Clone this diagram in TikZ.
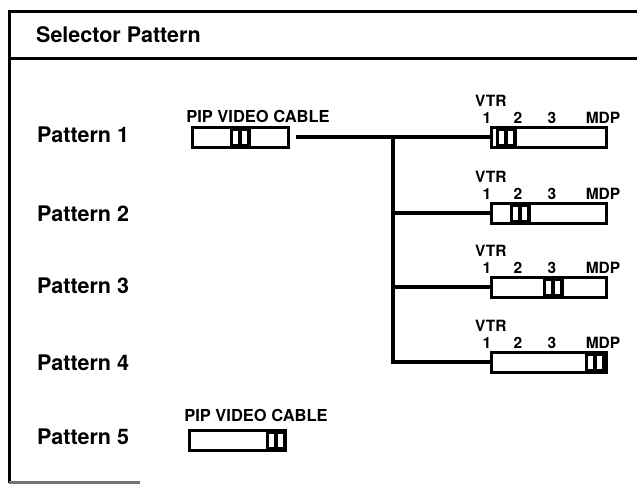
\documentclass[tikz,border=0pt]{standalone}
\usepackage{fontspec}
\setmainfont{TeX Gyre Heros}
\usetikzlibrary{positioning}
\tikzset{
  plabel/.style={anchor=west,inner sep=0pt,font=\fontsize{21.5}{21.5}\selectfont\bfseries},
  tag/.style={inner sep=0pt,font=\fontsize{15.5}{15.5}\selectfont\bfseries},
  piptag/.style={tag,font=\fontsize{16.5}{16.5}\selectfont\bfseries},
  switchbox/.style={draw,rectangle,line width=3pt,minimum width=96pt,minimum height=20pt,inner sep=0pt},
  vtrbox/.style={switchbox,minimum width=115pt},
  knob/.style={fill=black,rectangle,minimum width=21pt,minimum height=21pt,inner sep=0pt,
    path picture={
      \fill[white] ([xshift=-7pt,yshift=-6.5pt]path picture bounding box.center) rectangle ([xshift=-1.6pt,yshift=6.5pt]path picture bounding box.center);
      \fill[white] ([xshift=1.6pt,yshift=-6.5pt]path picture bounding box.center) rectangle ([xshift=7pt,yshift=6.5pt]path picture bounding box.center);}},
  wire/.style={line width=3.4pt}
}
\begin{document}
\begin{tikzpicture}[x=1pt,y=-1pt]
  \useasboundingbox (0,0) rectangle (637,485);

  % frame and header
  \draw[line width=3pt] (637,11) -- (9,11) -- (9,483);
  \draw[line width=3pt] (9,58) -- (637,58);
  \draw[line width=2.4pt,black!55] (9,482.5) -- (140,482.5);
  \node[plabel] (title) at (36,35) {Selector Pattern};

  % pattern names
  \node[plabel] (p1) at (37,135) {Pattern 1};
  \node[plabel] (p2) at (37,214) {Pattern 2};
  \node[plabel] (p3) at (37,286) {Pattern 3};
  \node[plabel] (p4) at (37,363) {Pattern 4};
  \node[plabel] (p5) at (37,437) {Pattern 5};

  % PIP switches
  \node[switchbox] (pip1) at (240,137) {};
  \node[piptag] (pipl1) at (258,116) {PIP VIDEO CABLE};
  \node[knob] (k1) at (240,137) {};
  \node[switchbox] (pip5) at (237,440) {};
  \node[piptag] (pipl5) at (256,415) {PIP VIDEO CABLE};
  \node[knob] (k5) at (276,440) {};

  % VTR/MDP switches
  \node[vtrbox] (v1) at (548.5,137) {};
  \node[vtrbox] (v2) at (548.5,213) {};
  \node[vtrbox] (v3) at (548.5,287) {};
  \node[vtrbox] (v4) at (548.5,362) {};

  \node[tag,anchor=west] (vt1) at (475,101) {VTR};
  \node[tag,anchor=west] (vt2) at (475,177) {VTR};
  \node[tag,anchor=west] (vt3) at (475,251) {VTR};
  \node[tag,anchor=west] (vt4) at (475,326) {VTR};

  \node[tag] (a1) at (487,118) {1};
  \node[tag] (b1) at (518,118) {2};
  \node[tag] (c1) at (552,118) {3};
  \node[tag] (d1) at (603,118) {MDP};
  \node[tag] (a2) at (487,194) {1};
  \node[tag] (b2) at (518,194) {2};
  \node[tag] (c2) at (552,194) {3};
  \node[tag] (d2) at (603,194) {MDP};
  \node[tag] (a3) at (487,268) {1};
  \node[tag] (b3) at (518,268) {2};
  \node[tag] (c3) at (552,268) {3};
  \node[tag] (d3) at (603,268) {MDP};
  \node[tag] (a4) at (487,343) {1};
  \node[tag] (b4) at (518,343) {2};
  \node[tag] (c4) at (552,343) {3};
  \node[tag] (d4) at (603,343) {MDP};

  \node[knob] (kv1) at (506,137) {};
  \node[knob] (kv2) at (520,213) {};
  \node[knob] (kv3) at (553,287) {};
  \node[knob] (kv4) at (595,362) {};

  % wiring
  \coordinate (tap) at (393,137);
  \draw[wire,shorten <=6pt] (pip1.east) -- (v1.west);
  \draw[wire] (tap) |- (v4.west);
  \draw[wire] (tap |- v2.west) -- (v2.west);
  \draw[wire] (tap |- v3.west) -- (v3.west);
\end{tikzpicture}
\end{document}
